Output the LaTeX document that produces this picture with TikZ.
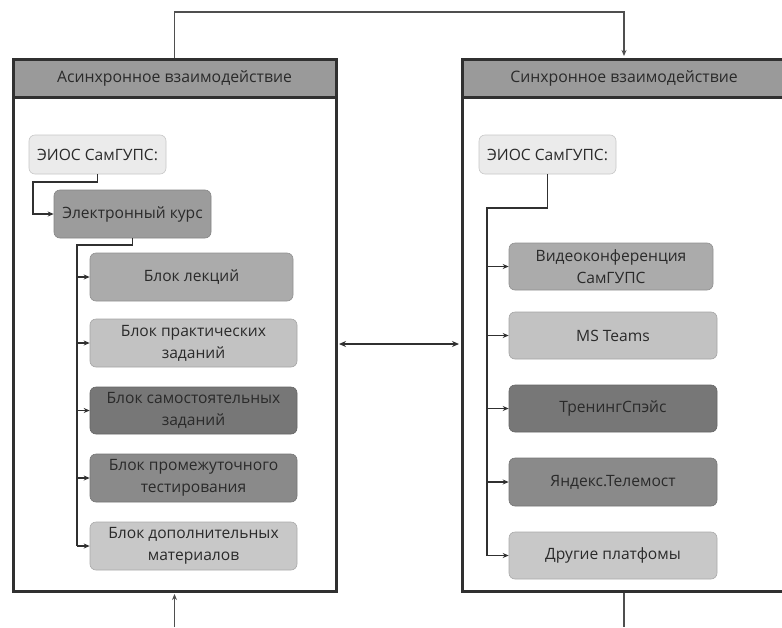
\documentclass[tikz,border=0pt]{standalone}
\usepackage{fontspec}
\setmainfont{Open Sans}
\usetikzlibrary{arrows.meta,calc}
\definecolor{txt}{HTML}{2A2A2A}
\definecolor{frame}{HTML}{303030}
\definecolor{hdr}{HTML}{9A9A9A}
\definecolor{fA}{HTML}{EBEBEB}
\definecolor{fB}{HTML}{9C9C9C}
\definecolor{fC}{HTML}{ABABAB}
\definecolor{fD}{HTML}{C2C2C2}
\definecolor{fE}{HTML}{777777}
\definecolor{fF}{HTML}{8A8A8A}
\definecolor{fG}{HTML}{C8C8C8}
\tikzset{
  x=1pt,y=-1pt,
  box/.style={rounded corners=6pt,draw=#1!85!black,fill=#1,line width=0.6pt,
    text=txt,font=\fontsize{15.6}{22}\selectfont,align=center,inner sep=2pt},
  cont/.style={draw=frame,line width=3pt,fill=white,inner sep=0pt},
  hdrbox/.style={draw=frame,line width=3pt,fill=hdr,inner sep=0pt,
    text=txt,font=\fontsize{15.8}{19}\selectfont},
  conn/.style={draw=frame,line width=1.7pt},
  arr/.style={conn,-{Stealth[length=6pt,width=5pt]}},
  thin/.style={draw=frame!85,line width=1.3pt},
}
\begin{document}
\begin{tikzpicture}
\useasboundingbox (0,0) rectangle (782,627);
\clip (0,0) rectangle (782,627);
\fill[white] (0,0) rectangle (782,627);

% containers
\node[cont,minimum width=323pt,minimum height=532pt] (lbody) at (174.5,325) {};
\node[hdrbox,minimum width=323pt,minimum height=38pt] (lh) at (174.5,78) {Асинхронное взаимодействие};
\node[cont,minimum width=324pt,minimum height=532pt] (rbody) at (624,325) {};
\node[hdrbox,minimum width=324pt,minimum height=38pt] (rh) at (624,78) {Синхронное взаимодействие};

% left column
\node[box=fA,minimum width=137pt,minimum height=39pt] (e1) at (97.5,154.5) {ЭИОС СамГУПС:};
\node[box=fB,minimum width=157pt,minimum height=48pt] (ek) at (132.5,214) {Электронный курс};
\node[box=fC,minimum width=203pt,minimum height=48pt] (b1) at (191.5,277) {Блок лекций};
\node[box=fD,minimum width=207pt,minimum height=48pt] (b2) at (193.5,343) {Блок практических\\заданий};
\node[box=fE,minimum width=207pt,minimum height=47pt] (b3) at (193.5,410.5) {Блок самостоятельных\\заданий};
\node[box=fF,minimum width=207pt,minimum height=48pt] (b4) at (193.5,478) {Блок промежуточного\\тестирования};
\node[box=fG,minimum width=207pt,minimum height=48pt] (b5) at (193.5,546) {Блок дополнительных\\материалов};

% right column
\node[box=fA,minimum width=137pt,minimum height=39pt] (e2) at (547.5,154.5) {ЭИОС СамГУПС:};
\node[box=fC,minimum width=204pt,minimum height=47pt] (r1) at (611,266.5) {Видеоконференция\\СамГУПС};
\node[box=fD,minimum width=208pt,minimum height=47pt] (r2) at (613,335.5) {MS Teams};
\node[box=fE,minimum width=208pt,minimum height=47pt] (r3) at (613,408.5) {ТренингСпэйс};
\node[box=fF,minimum width=208pt,minimum height=48pt] (r4) at (613,482) {Яндекс.Телемост};
\node[box=fG,minimum width=208pt,minimum height=47pt] (r5) at (613,555.5) {Другие платфомы};

% left connectors
\draw[arr] (e1.south) -- ++(0,8) -| ([xshift=-21pt]ek.west) -- (ek.west);
\coordinate (lt) at (77,245);
\draw[conn] (ek.south) -- ++(0,7) -| (lt |- b5.west);
\foreach \b in {b1,b2,b3,b4,b5} \draw[arr] (lt |- \b.west) -- (\b.west);

% right connectors
\coordinate (rt) at (487,208);
\draw[conn] (e2.south) |- (rt) -- (rt |- r5.west);
\foreach \b in {r1,r2,r3,r4,r5} \draw[arr] (rt |- \b.west) -- (\b.west);

% between containers
\draw[conn,line width=2.2pt,{Stealth[length=7pt,width=6pt]}-{Stealth[length=7pt,width=6pt]}]
  ([xshift=1.5pt,yshift=-19pt]lbody.east) -- ([xshift=-1.5pt,yshift=-19pt]rbody.west);

% top loop
\coordinate (tl) at (174.5,12);
\coordinate (tr) at (624,12);
\draw[thin,-{Stealth[length=6pt,width=5pt]}] (lh.north) -- (tl) -- (tr) -- ([yshift=1.5pt]rh.north);

% bottom
\coordinate (bl) at (174.5,627);
\coordinate (br) at (624,627);
\draw[thin,-{Stealth[length=6pt,width=5pt]}] (bl) -- ([yshift=-1.5pt]lbody.south);
\draw[thin] (rbody.south) -- (br);
\end{tikzpicture}
\end{document}
